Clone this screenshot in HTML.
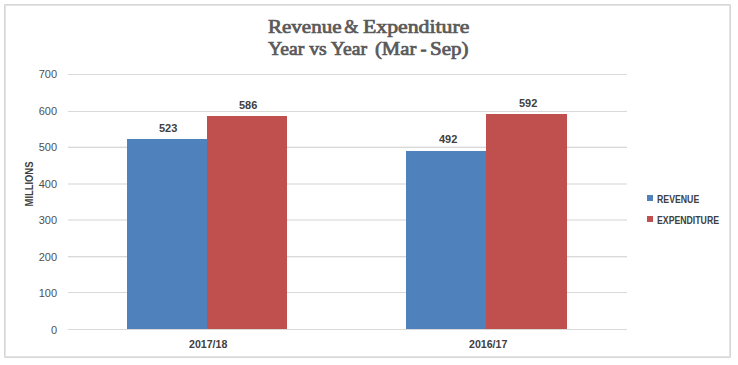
<!DOCTYPE html>
<html><head><meta charset="utf-8">
<style>
html,body{margin:0;padding:0;background:#fff;}
body{width:738px;height:365px;position:relative;overflow:hidden;font-family:"Liberation Sans",sans-serif;}
.frame{position:absolute;left:4px;top:4px;width:725px;height:352px;border:1px solid #d6d6d6;box-shadow:inset 0 0 0 1px #e4e4e4;border-radius:1px;}
.t{position:absolute;white-space:nowrap;line-height:1;transform-origin:0 0;}
.title{font-family:"Liberation Serif",serif;font-weight:normal;-webkit-text-stroke:0.7px #595959;font-size:18.2px;color:#595959;}
.grid{position:absolute;left:68px;width:559px;height:1px;background:#d9d9d9;}
.ylab{font-size:11px;color:#505050;width:40px;text-align:right;left:17px;}
.bar{position:absolute;}
.b{background:#4f81bd;}
.r{background:#c0504d;}
.dl{font-size:10px;font-weight:bold;color:#404040;transform:scaleX(1.1);}
.cat{font-size:10px;font-weight:bold;color:#404040;transform:scaleX(1.06);}
.leg{font-size:10px;font-weight:bold;color:#404040;left:657px;}
.sq{position:absolute;width:6px;height:6px;left:647px;}
</style></head><body>
<div class="frame"></div>
<div class="t title" style="left:267.5px;top:18px;transform:scaleX(1.155)">Revenue</div>
<div class="t title" style="left:344.3px;top:18px;transform:scaleX(1.0)">&amp;</div>
<div class="t title" style="left:362.5px;top:18px;transform:scaleX(1.196)">Expenditure</div>
<div class="t title" style="left:267.5px;top:40px;transform:scaleX(1.082)">Year vs Year</div>
<div class="t title" style="left:375px;top:40px;transform:scaleX(1.135)">(Mar</div>
<div class="t title" style="left:420.5px;top:40px;transform:scaleX(1.0)">-</div>
<div class="t title" style="left:429.6px;top:40px;transform:scaleX(1.155)">Sep)</div>

<div class="grid" style="top:74px"></div>
<div class="grid" style="top:111px"></div>
<div class="grid" style="top:147px"></div>
<div class="grid" style="top:146px;background:#f1f1f1"></div>
<div class="grid" style="top:183px;height:2px;background:#e9e9e9"></div>
<div class="grid" style="top:219px;height:2px;background:#e9e9e9"></div>
<div class="grid" style="top:256px"></div>
<div class="grid" style="top:257px;background:#f1f1f1"></div>
<div class="grid" style="top:292px"></div>
<div class="grid" style="top:329px"></div>

<div class="t ylab" style="top:69px">700</div>
<div class="t ylab" style="top:106px">600</div>
<div class="t ylab" style="top:142px">500</div>
<div class="t ylab" style="top:179px">400</div>
<div class="t ylab" style="top:215px">300</div>
<div class="t ylab" style="top:252px">200</div>
<div class="t ylab" style="top:288px">100</div>
<div class="t ylab" style="top:325px">0</div>

<div class="t" style="left:30.4px;top:184px;font-size:10.3px;font-weight:bold;color:#404040;transform:translate(-50%,-50%) rotate(-90deg) scaleX(0.91);transform-origin:center;">MILLIONS</div>

<div class="bar b" style="left:127px;top:139px;width:80px;height:190px"></div>
<div class="bar r" style="left:207px;top:116px;width:80px;height:213px"></div>
<div class="bar b" style="left:406px;top:151px;width:80px;height:178px"></div>
<div class="bar r" style="left:486px;top:114px;width:81px;height:215px"></div>

<div class="t dl" style="left:159px;top:123.5px">523</div>
<div class="t dl" style="left:239px;top:100.5px">586</div>
<div class="t dl" style="left:439px;top:134.5px">492</div>
<div class="t dl" style="left:519px;top:98.5px">592</div>

<div class="t cat" style="left:189px;top:340px">2017/18</div>
<div class="t cat" style="left:469px;top:340px">2016/17</div>

<div class="sq b" style="top:195px"></div>
<div class="sq r" style="top:216px"></div>
<div class="t leg" style="top:194.5px;transform:scaleX(0.873)">REVENUE</div>
<div class="t leg" style="top:215.5px;transform:scaleX(0.872)">EXPENDITURE</div>
</body></html>
